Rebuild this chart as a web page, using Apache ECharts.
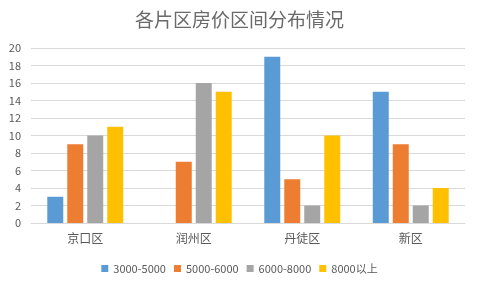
<!DOCTYPE html>
<html><head><meta charset="utf-8">
<script src="https://cdn.jsdelivr.net/npm/echarts@6/dist/echarts.min.js"></script>
<style>html,body{margin:0;padding:0;background:#fff}#c{width:479px;height:285px}</style>
</head><body><div id="c"></div>
<script>
const categories = ['京口区','润州区','丹徒区','新区'];
const seriesNames = ['3000-5000','5000-6000','6000-8000','8000以上'];
const s3000_5000 = [3, 0, 19, 15];
const s5000_6000 = [9, 7, 5, 9];
const s6000_8000 = [10, 16, 2, 2];
const s8000plus = [11, 15, 10, 4];
const colors = ['#5B9BD5','#ED7D31','#A5A5A5','#FFC000'];
const values = [s3000_5000, s5000_6000, s6000_8000, s8000plus];
const font = '"Microsoft YaHei","Noto Sans CJK SC",sans-serif';
const chart = echarts.init(document.getElementById('c'));
chart.setOption({
  animation:false,
  title:{text:'各片区房价区间分布情况',left:'center',top:5,textStyle:{fontSize:19,fontWeight:'normal',color:'#6a6a6a',fontFamily:font}},
  legend:{bottom:6,left:'center',itemWidth:7,itemHeight:7,itemGap:8,icon:'rect',textStyle:{fontSize:11,color:'#595959',fontFamily:font},data:seriesNames},
  grid:{left:31,right:14,top:48,bottom:62},
  xAxis:{type:'category',data:categories,axisTick:{show:false},axisLine:{lineStyle:{color:'#D9D9D9'}},axisLabel:{fontSize:12,color:'#595959',fontFamily:font,margin:9}},
  yAxis:{type:'value',min:0,max:20,interval:2,axisLabel:{fontSize:11,color:'#595959',fontFamily:font,margin:10},splitLine:{lineStyle:{color:'#D9D9D9'}}},
  series: seriesNames.map((n,i)=>({name:n,type:'bar',data:values[i].map(v=>v===0?null:v),itemStyle:{color:colors[i]},barGap:'25%',barCategoryGap:'30%'}))
});
</script></body></html>
